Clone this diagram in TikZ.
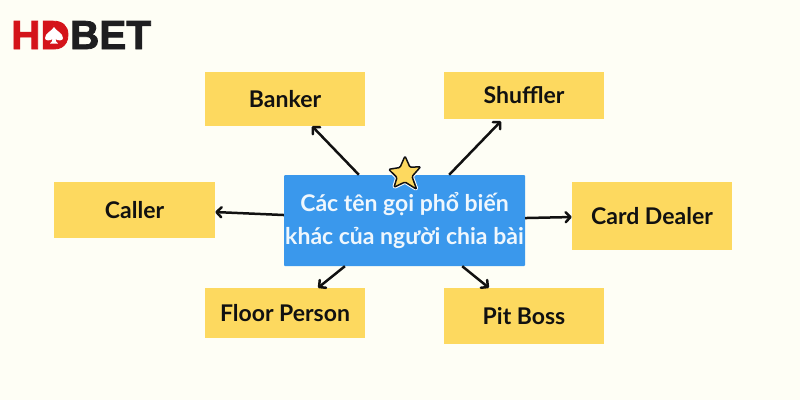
\documentclass[tikz,border=0pt]{standalone}
\usepackage{fontspec}
\setmainfont{Lato}
\newfontfamily\logofont[FakeBold=2]{Liberation Sans Bold}
\usetikzlibrary{calc,arrows.meta}
\definecolor{paper}{HTML}{FEFEF5}
\definecolor{boxy}{HTML}{FDD95F}
\definecolor{boxb}{HTML}{3A98EC}
\definecolor{ink}{HTML}{111111}
\definecolor{logored}{HTML}{D4141A}
\definecolor{logoblack}{HTML}{1E1E20}
\tikzset{
  yb/.style={fill=boxy,inner sep=0pt,minimum width=#1,font=\fontsize{23}{27}\selectfont\bfseries,text=ink},
  cb/.style={fill=boxb,inner sep=0pt,minimum width=241pt,minimum height=91pt,align=center,text=white!92!boxb,rounded corners=1pt,font=\fontsize{23}{33}\selectfont\bfseries},
  arr/.style={draw=ink,line width=2.5pt,-{Straight Barb[length=5pt,width=10pt,round]}},
  lg/.style={inner sep=0pt,anchor=base west,font=\fontsize{40.5}{40}\logofont}
}
\begin{document}
\begin{tikzpicture}[x=1pt,y=-1pt]
\useasboundingbox (0,0) rectangle (800,400);
\fill[paper] (0,0) rectangle (800,400);
% logo
\node[lg,text=logored] (lh) at (11,49) {HD};
\node[lg,text=logoblack,anchor=base west] (lb) at (lh.base east) {BET};
\fill[logored] (48,26) rectangle (66,44);
\fill[white] (54,27) .. controls (56,31) and (63,33) .. (63,38) .. controls (63,41) and (58,41) .. (55.5,39) .. controls (55.5,41) and (56.5,42.5) .. (58,43.5) -- (50,43.5) .. controls (51.5,42.5) and (52.5,41) .. (52.5,39) .. controls (50,41) and (45,41) .. (45,38) .. controls (45,33) and (52,31) .. (54,27) -- cycle;
% boxes
\node[yb=160pt,minimum height=54pt] (banker) at (285,99) {Banker};
\node[yb=160pt,minimum height=47pt] (shuffler) at (524,95.5) {Shuffler};
\node[yb=161pt,minimum height=56pt] (caller) at (134.5,210) {Caller};
\node[yb=160pt,minimum height=68pt] (dealer) at (652,216) {Card Dealer};
\node[yb=160pt,minimum height=50pt] (floor) at (285,313) {Floor Person};
\node[yb=160pt,minimum height=56pt] (pit) at (524,316) {Pit Boss};
\node[cb] (main) at (404.5,220.5) {Các tên gọi phổ biến\\khác của người chia bài};
% connectors
\draw[arr] ($(main.north west)!.311!(main.north east)$) -- ($(banker.south west)!.669!(banker.south east)$);
\draw[arr] ($(main.north west)!.685!(main.north east)$) -- ($(shuffler.south west)!.356!(shuffler.south east)+(0,2)$);
\draw[arr] ($(main.north west)!.44!(main.south west)$) -- ($(caller.north east)!.536!(caller.south east)$);
\draw[arr] ($(main.north east)!.473!(main.south east)$) -- ($(dealer.north west)!.515!(dealer.south west)$);
\draw[arr] ($(main.south west)!.253!(main.south east)$) -- ($(floor.north west)!.706!(floor.north east)$);
\draw[arr] ($(main.south west)!.739!(main.south east)$) -- ($(pit.north west)!.281!(pit.north east)$);
% star
\path[draw=white,line width=3.6pt,line join=round,rounded corners=1.2pt,fill=white]
 (405,156) -- (410,167.3) -- (420.7,166.7) -- (412,176.5) -- (416.7,189.3) -- (405,182) -- (394,187.3) -- (397,177.5) -- (388.7,169.3) -- (400,167.5) -- cycle;
\path[draw=ink,line width=1.5pt,line join=round,rounded corners=1.2pt,fill=boxy]
 (405,156) -- (410,167.3) -- (420.7,166.7) -- (412,176.5) -- (416.7,189.3) -- (405,182) -- (394,187.3) -- (397,177.5) -- (388.7,169.3) -- (400,167.5) -- cycle;
\end{tikzpicture}
\end{document}
